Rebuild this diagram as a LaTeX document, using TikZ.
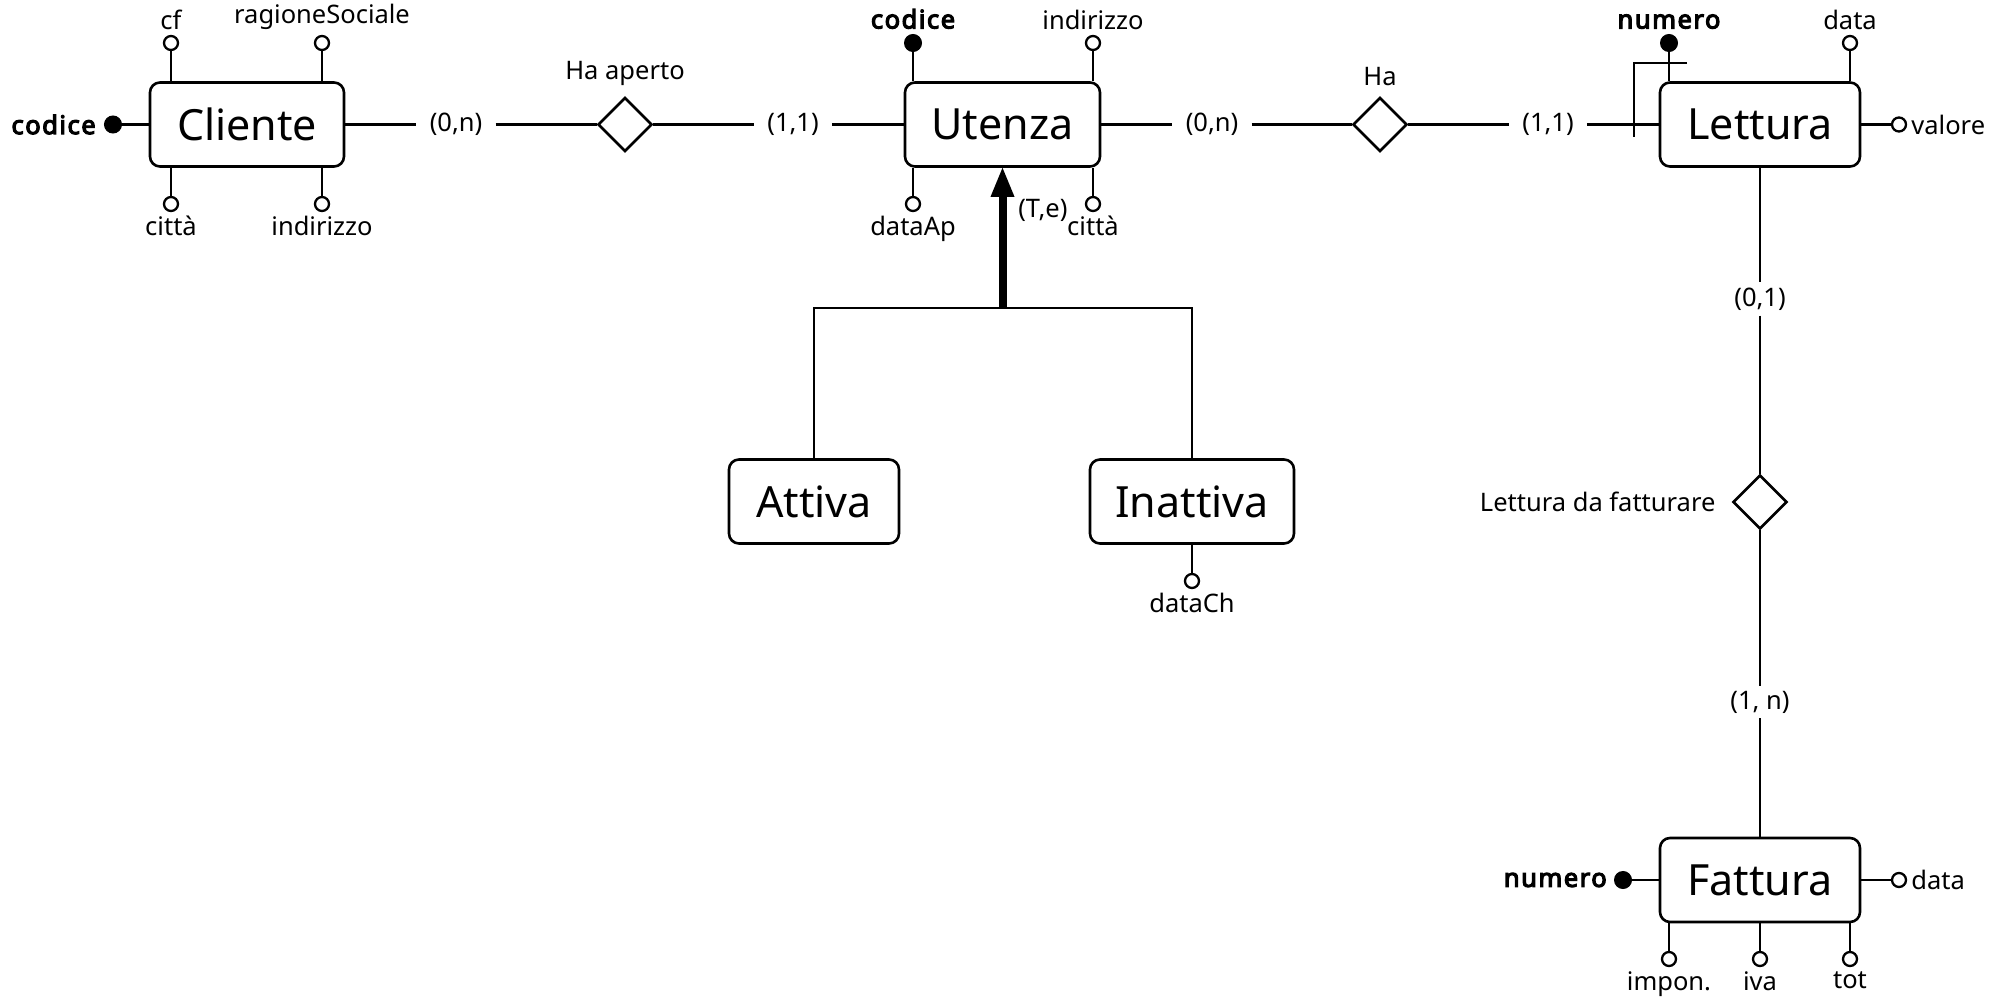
\documentclass[tikz,border=0pt]{standalone}
\usepackage{fontspec}
\setmainfont{Noto Sans}
\newfontfamily\keyfont{Noto Sans}[FakeBold=4.5,LetterSpace=6]
\usetikzlibrary{shapes.geometric,arrows.meta}

\begin{document}
\begin{tikzpicture}[x=1pt,y=-1pt,
  line width=2.6pt,
  entity/.style={draw, rounded corners=10pt, minimum height=84pt, inner sep=0pt,
                 font=\fontsize{43}{50}\selectfont},
  rel/.style={draw, diamond, minimum width=54pt, minimum height=54pt, inner sep=0pt},
  attr/.style={circle, draw, fill=white, minimum size=14pt, inner sep=0pt, line width=2.3pt},
  keyattr/.style={circle, draw, fill=black, minimum size=17pt, inner sep=0pt, line width=1pt},
  lbl/.style={font=\fontsize{25.5}{30}\selectfont, inner sep=1pt},
  keylbl/.style={font=\keyfont\fontsize{25.5}{30}\selectfont, inner sep=1pt},
  card/.style={font=\fontsize{25.5}{30}\selectfont, inner xsep=12pt, inner ysep=4pt},
]
\useasboundingbox (0,0) rectangle (2013,1000);

% entities
\node[entity, minimum width=194pt] (cliente)  at (247,124.5)  {Cliente};
\node[entity, minimum width=195pt] (utenza)   at (1002.5,124.5) {Utenza};
\node[entity, minimum width=200pt] (lettura)  at (1760,124.5) {Lettura};
\node[entity, minimum width=170pt] (attiva)   at (814,501.5)  {Attiva};
\node[entity, minimum width=204pt] (inattiva) at (1192,501.5) {Inattiva};
\node[entity, minimum width=200pt] (fattura)  at (1760,880)   {Fattura};

% relationships
\node[rel] (haaperto) at (625,124.5) {};
\node[rel] (ha)       at (1380,124.5) {};
\node[rel] (ldf)      at (1760,502) {};
\node[lbl, anchor=south] (haaperto-l) at ([yshift=8pt]haaperto.north) {Ha aperto};
\node[lbl, anchor=south] (ha-l)       at ([yshift=8pt]ha.north) {Ha};
\node[lbl, anchor=east]  (ldf-l)      at ([xshift=-14pt]ldf.west) {Lettura da fatturare};

% cardinalities on the connectors
\node[card] (c1) at (456,124.5)  {(0,n)};
\node[card] (c2) at (793,124.5)  {(1,1)};
\node[card] (c3) at (1212,124.5) {(0,n)};
\node[card] (c4) at (1548,124.5) {(1,1)};
\node[card] (c5) at (1760,299)   {(0,1)};
\node[card] (c6) at (1760,702)   {(1, n)};

\draw (cliente) -- (c1) -- (haaperto) -- (c2) -- (utenza);
\draw (utenza) -- (c3) -- (ha) -- (c4) -- (lettura);
\draw (lettura) -- (c5) -- (ldf) -- (c6) -- (fattura);

% external identifier of Lettura
\draw (1687,63) -- (1634,63) -- (1634,137);

% generalization of Utenza
\coordinate (hier) at (1002.5,308);
\draw (attiva.north) -- (attiva.north |- hier) -- (inattiva.north |- hier) -- (inattiva.north);
\draw[line width=8pt, -{Triangle[length=29pt,width=24pt,line width=0pt]}] (hier) -- (utenza.south);
\node[lbl, anchor=west] (te) at (1016,210) {(T,e)};

% attributes of Cliente
\node[keyattr] (cl-cod) at (113,124.5) {};
\node[attr] (cl-cf)  at (171,43) {};
\node[attr] (cl-rs)  at (322,43) {};
\node[attr] (cl-cit) at (171,204) {};
\node[attr] (cl-ind) at (322,204) {};
\draw (cl-cod) -- (cliente);
\draw (cl-cf)  -- (cliente.north -| cl-cf);
\draw (cl-rs)  -- (cliente.north -| cl-rs);
\draw (cl-cit) -- (cliente.south -| cl-cit);
\draw (cl-ind) -- (cliente.south -| cl-ind);
\node[keylbl, anchor=east]  at ([xshift=-6pt]cl-cod.west) {codice};
\node[lbl, anchor=south] at ([yshift=3pt]cl-cf.north) {cf};
\node[lbl, anchor=south] at ([yshift=3pt]cl-rs.north) {ragioneSociale};
\node[lbl, anchor=north] at ([yshift=-2pt]cl-cit.south) {città};
\node[lbl, anchor=north] at ([yshift=-2pt]cl-ind.south) {indirizzo};

% attributes of Utenza
\node[keyattr] (ut-cod) at (913,43) {};
\node[attr] (ut-ind) at (1093,43) {};
\node[attr] (ut-dat) at (913,204) {};
\node[attr] (ut-cit) at (1093,204) {};
\draw (ut-cod) -- (utenza.north -| ut-cod);
\draw (ut-ind) -- (utenza.north -| ut-ind);
\draw (ut-dat) -- (utenza.south -| ut-dat);
\draw (ut-cit) -- (utenza.south -| ut-cit);
\node[keylbl, anchor=south] at ([yshift=3pt]ut-cod.north) {codice};
\node[lbl, anchor=south] at ([yshift=3pt]ut-ind.north) {indirizzo};
\node[lbl, anchor=north] at ([yshift=-2pt]ut-dat.south) {dataAp};
\node[lbl, anchor=north] at ([yshift=-2pt]ut-cit.south) {città};

% attributes of Lettura
\node[keyattr] (le-num) at (1669,43) {};
\node[attr] (le-dat) at (1850,43) {};
\node[attr] (le-val) at (1899,124.5) {};
\draw (le-num) -- (lettura.north -| le-num);
\draw (le-dat) -- (lettura.north -| le-dat);
\draw (le-val) -- (lettura);
\node[keylbl, anchor=south] at ([yshift=3pt]le-num.north) {numero};
\node[lbl, anchor=south] at ([yshift=3pt]le-dat.north) {data};
\node[lbl, anchor=west] at ([xshift=2pt]le-val.east) {valore};

% attribute of Inattiva
\node[attr] (in-dat) at (1192,581) {};
\draw (in-dat) -- (inattiva);
\node[lbl, anchor=north] at ([yshift=-2pt]in-dat.south) {dataCh};

% attributes of Fattura
\node[keyattr] (fa-num) at (1623,880) {};
\node[attr] (fa-dat) at (1899,880) {};
\node[attr] (fa-imp) at (1669,959) {};
\node[attr] (fa-iva) at (1760,959) {};
\node[attr] (fa-tot) at (1850,959) {};
\draw (fa-num) -- (fattura);
\draw (fa-dat) -- (fattura);
\draw (fa-imp) -- (fattura.south -| fa-imp);
\draw (fa-iva) -- (fattura.south -| fa-iva);
\draw (fa-tot) -- (fattura.south -| fa-tot);
\node[keylbl, anchor=east] at ([xshift=-5pt]fa-num.west) {numero};
\node[lbl, anchor=west] at ([xshift=2pt]fa-dat.east) {data};
\node[lbl, anchor=north] at ([yshift=-2pt]fa-imp.south) {impon.};
\node[lbl, anchor=north] at ([yshift=-2pt]fa-iva.south) {iva};
\node[lbl, anchor=north] at ([yshift=-2pt]fa-tot.south) {tot};
\end{tikzpicture}
\end{document}
